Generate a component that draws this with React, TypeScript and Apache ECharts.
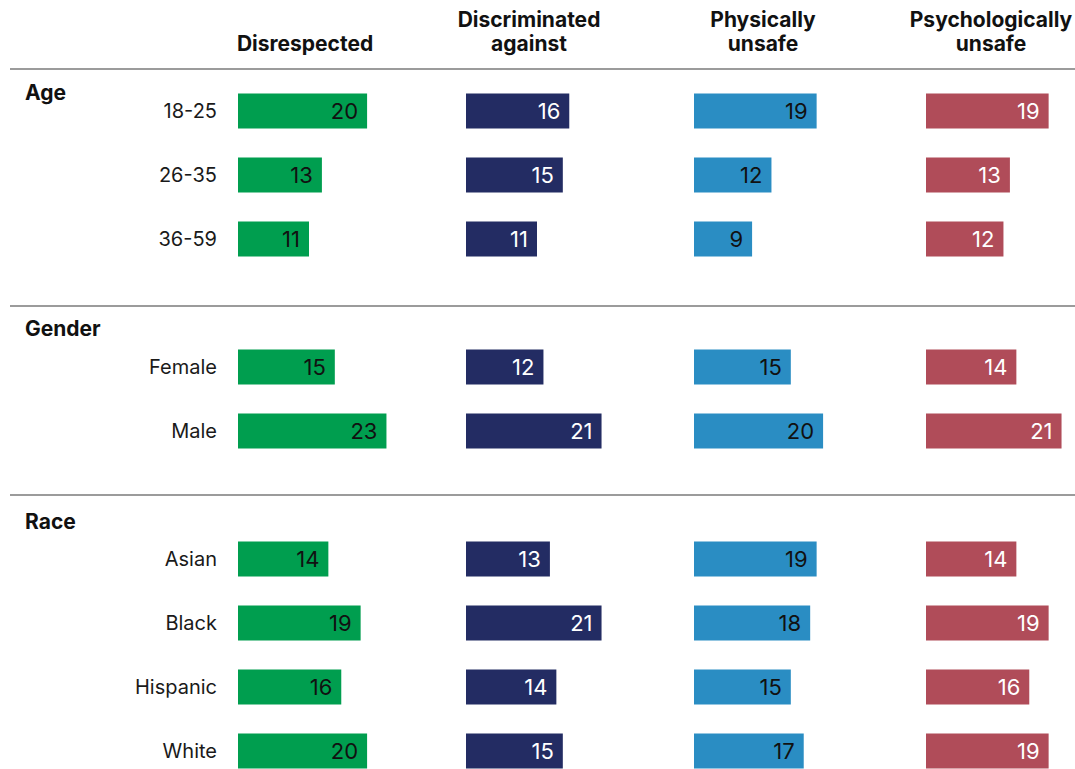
import React, { useEffect, useRef } from "react";
import * as echarts from "echarts";

const rowLabels = ["18-25", "26-35", "36-59", " ", "Female", "Male", "  ", "Asian", "Black", "Hispanic", "White"];
const columnTitles = ["Disrespected", "Discriminated\nagainst", "Physically\nunsafe", "Psychologically\nunsafe"];
const groupTitles = ["Age", "Gender", "Race"];

const disrespected = [20, 13, 11, null, 15, 23, null, 14, 19, 16, 20];
const discriminated = [16, 15, 11, null, 12, 21, null, 13, 21, 14, 15];
const physicallyUnsafe = [19, 12, 9, null, 15, 20, null, 19, 18, 15, 17];
const psychologicallyUnsafe = [19, 13, 12, null, 14, 21, null, 14, 19, 16, 19];

const seriesData = [disrespected, discriminated, physicallyUnsafe, psychologicallyUnsafe];
const barColors = ["#009E4F", "#232C63", "#2A8DC3", "#B04C59"];
const labelColors = ["#111111", "#ffffff", "#111111", "#ffffff"];
const gridLefts = [238, 466, 694, 926];
const titleCenters = [305, 529, 763, 991];
const groupTitleY = [92, 328, 521];
const separatorY = [69, 306, 495];

const FONT = "Inter, 'Noto Sans', sans-serif";

export default function App() {
  const ref = useRef<HTMLDivElement>(null);
  useEffect(() => {
    const chart = echarts.init(ref.current!, null, { renderer: "svg" });
    const grids = gridLefts.map((left) => ({ left, top: 111, width: 142, height: 640 }));
    const xAxes = gridLefts.map((_, i) => ({
      type: "value",
      gridIndex: i,
      min: 0,
      max: 22,
      show: false,
    }));
    const yAxes = gridLefts.map((_, i) => ({
      type: "category",
      gridIndex: i,
      inverse: true,
      boundaryGap: false,
      data: rowLabels,
      axisLine: { show: false },
      axisTick: { show: false },
      splitLine: { show: false },
      axisLabel: {
        show: i === 0,
        margin: 21,
        fontSize: 20,
        fontFamily: FONT,
        color: "#1a1a1a",
      },
    }));
    const series = seriesData.map((data, i) => ({
      type: "bar",
      xAxisIndex: i,
      yAxisIndex: i,
      data,
      barWidth: 35,
      clip: false,
      itemStyle: { color: barColors[i] },
      label: {
        show: true,
        position: "insideRight",
        distance: 9,
        fontSize: 22,
        fontFamily: FONT,
        color: labelColors[i],
      },
    }));
    const graphic: any[] = [];
    columnTitles.forEach((t, i) => {
      graphic.push({
        type: "text",
        x: titleCenters[i],
        y: 55,
        style: {
          text: t,
          font: `bold 21px ${FONT}`,
          fill: "#111",
          align: "center",
          verticalAlign: "bottom",
          lineHeight: 24,
        },
      });
    });
    groupTitles.forEach((t, i) => {
      graphic.push({
        type: "text",
        x: 25,
        y: groupTitleY[i],
        style: {
          text: t,
          font: `bold 21px ${FONT}`,
          fill: "#111",
          align: "left",
          verticalAlign: "middle",
        },
      });
    });
    separatorY.forEach((y) => {
      graphic.push({
        type: "line",
        shape: { x1: 10, y1: y, x2: 1075, y2: y },
        style: { stroke: "#7a7a7a", lineWidth: 1.5 },
      });
    });
    chart.setOption({
      animation: false,
      backgroundColor: "#ffffff",
      grid: grids,
      xAxis: xAxes,
      yAxis: yAxes,
      series,
      graphic,
    });
    return () => chart.dispose();
  }, []);
  return (
    <div
      ref={ref}
      style={{ position: "absolute", left: 0, top: 0, width: 1075, height: 769 }}
    />
  );
}
